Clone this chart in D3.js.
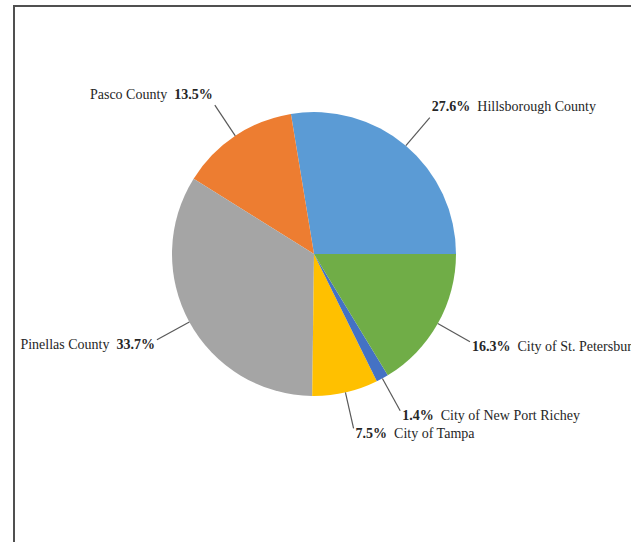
<!DOCTYPE html>
<html>
<head>
<meta charset="utf-8">
<script src="https://cdn.jsdelivr.net/npm/d3@7"></script>
<style>
  body { margin: 0; background: #fff; }
  svg { display: block; }
  text { font-family: "Liberation Serif", "Times New Roman", serif; font-size: 14px; fill: #262626; }
</style>
</head>
<body>
<svg width="631" height="542"></svg>
<script>
// data, in the order the slices go (counter-clockwise from 3 o'clock)
var names = ["Hillsborough County", "Pasco County", "Pinellas County", "City of Tampa", "City of New Port Richey", "City of St. Petersburg"];
var shares = [27.6, 13.5, 33.7, 7.5, 1.4, 16.3];
var colors = ["#5B9BD5", "#ED7D31", "#A5A5A5", "#FFC000", "#4472C4", "#70AD47"];

var svg = d3.select("svg"),
  width = +svg.attr("width"),
  height = +svg.attr("height");

// chart frame (only top and left edges are visible)
svg.append("rect")
  .attr("x", 14).attr("y", 6)
  .attr("width", width).attr("height", height)
  .attr("fill", "none")
  .attr("stroke", "#505050")
  .attr("stroke-width", 2);

var cx = 314, cy = 254, r = 142;

var rows = names.map(function (n, i) { return { name: n, value: shares[i], color: colors[i] }; });

var pie = d3.pie()
  .sort(null)
  .value(function (d) { return d.value; })
  .startAngle(Math.PI / 2)
  .endAngle(Math.PI / 2 - 2 * Math.PI);

var arc = d3.arc().innerRadius(0).outerRadius(r);
var arcs = pie(rows);

var g = svg.append("g").attr("transform", "translate(" + cx + "," + cy + ")");

g.selectAll("path")
  .data(arcs)
  .enter()
  .append("path")
  .attr("d", arc)
  .attr("fill", function (d) { return d.data.color; });

// leader lines go from the edge out along the middle of each slice
function point(d, rad) {
  var a = (d.startAngle + d.endAngle) / 2;
  return [rad * Math.sin(a), -rad * Math.cos(a)];
}

g.selectAll("line")
  .data(arcs)
  .enter()
  .append("line")
  .attr("x1", function (d) { return point(d, r)[0]; })
  .attr("y1", function (d) { return point(d, r)[1]; })
  .attr("x2", function (d) { return point(d, r * 1.26)[0]; })
  .attr("y2", function (d) { return point(d, r * 1.26)[1]; })
  .attr("stroke", "#595959")
  .attr("stroke-width", 1.2);

var labels = g.selectAll("text.lbl")
  .data(arcs)
  .enter()
  .append("text")
  .attr("class", "lbl")
  .attr("x", function (d) {
    var p = point(d, r * 1.26);
    return p[0] > 0 ? p[0] + 2 : p[0] - 2;
  })
  .attr("y", function (d) {
    var p = point(d, r * 1.26);
    return p[1] < 0 ? p[1] - 6.5 : p[1] + 9.5;
  })
  .attr("text-anchor", function (d) { return point(d, r)[0] > 0 ? "start" : "end"; })
  .attr("xml:space", "preserve");

labels.each(function (d) {
  var t = d3.select(this);
  var pct = d.data.value.toFixed(1) + "%";
  if (point(d, r)[0] > 0) {
    t.append("tspan").attr("font-weight", "bold").text(pct);
    t.append("tspan").text("  " + d.data.name);
  } else {
    t.append("tspan").text(d.data.name + "  ");
    t.append("tspan").attr("font-weight", "bold").text(pct);
  }
});
</script>
</body>
</html>
